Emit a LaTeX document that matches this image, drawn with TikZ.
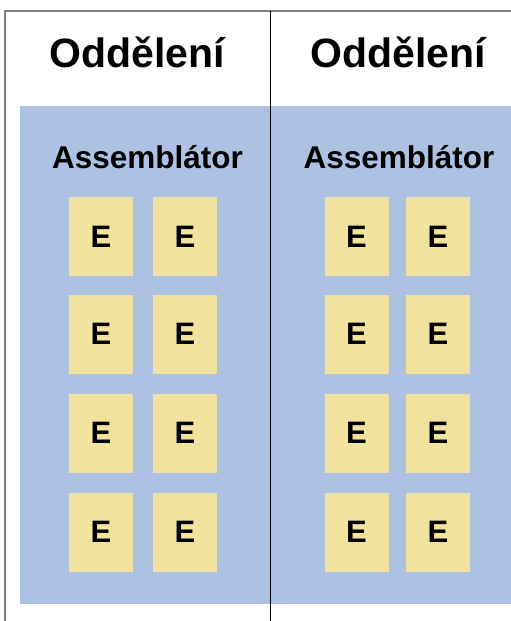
\documentclass[tikz,border=0pt]{standalone}
\usepackage{fontspec}
\setmainfont{Liberation Sans}
\definecolor{asmblue}{HTML}{ADC2E2}
\definecolor{eyellow}{HTML}{F1E39D}
\definecolor{sheetgray}{HTML}{808080}
\begin{document}
\begin{tikzpicture}[x=1pt,y=-1pt,
  title/.style={font=\fontsize{41}{43}\selectfont\bfseries, inner sep=0pt, anchor=base},
  asm/.style={font=\fontsize{31.5}{33}\selectfont\bfseries, inner sep=0pt, anchor=base},
  ebox/.style={fill=eyellow, draw=none, minimum width=64pt, minimum height=79pt, inner sep=0pt,
    font=\fontsize{31}{33}\selectfont\bfseries}]
\useasboundingbox (0,0) rectangle (511,621);
\fill[white] (0,0) rectangle (511,621);
% assembler area
\node[fill=asmblue, draw=none, minimum width=491pt, minimum height=498pt, inner sep=0pt, anchor=north west] (area) at (20,106) {};
% sheet lines
\coordinate (tl) at (5,11);
\coordinate (tr) at (511,11);
\coordinate (bl) at (5,621);
\coordinate (tm) at (270,11);
\coordinate (bm) at (270,621);
\draw[sheetgray, line width=1.3pt] (tr) -- (tl) -- (bl);
\draw[black, line width=1pt] (tm) -- (bm);
% titles
\node[title] (t1) at (137.5,67.5) {Oddělení};
\node[title] (t2) at (398.5,67.5) {Oddělení};
\node[asm] (a1) at (147.5,168) {Assemblátor};
\node[asm] (a2) at (399,168) {Assemblátor};
% E boxes
\foreach \c/\x in {1/101,2/185,3/356.5,4/438}{
  \foreach \r/\y in {1/236.5,2/334,3/433,4/532}{
    \node[ebox] (e\c\r) at (\x,\y) {E};
  }
}
\end{tikzpicture}
\end{document}
